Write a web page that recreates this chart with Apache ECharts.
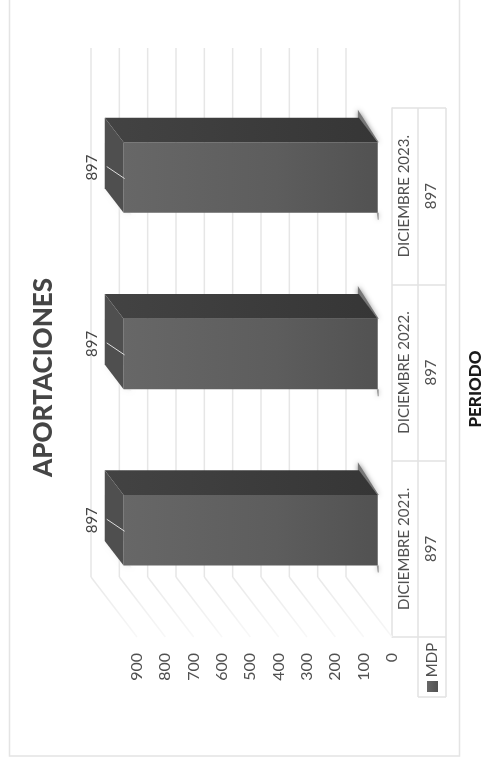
<!DOCTYPE html>
<html>
<head>
<meta charset="utf-8">
<style>html,body{margin:0;padding:0;background:#fff}#c{width:482px;height:760px}</style>
<script src="https://cdn.jsdelivr.net/npm/echarts@6/dist/echarts.min.js"></script>
</head>
<body>
<div id="c"></div>
<script>
const categories = ['DICIEMBRE 2021.', 'DICIEMBRE 2022.', 'DICIEMBRE 2023.'];
const mdpValues = [897, 897, 897];
const valueTicks = [0, 100, 200, 300, 400, 500, 600, 700, 800, 900];
const seriesName = 'MDP';
const chartTitle = 'APORTACIONES';
const axisTitle = 'PERIODO';

const FONT = 'Lato, "Open Sans", sans-serif';
const TXT = '#505050';
const DX = 46, DY = 60;           // floor depth of the 3D scene
const BAR_NEAR = 0.31, BAR_FAR = 0.72; // bar position within the depth
const BAR_W = 0.4;                // bar thickness as part of a band

const chart = echarts.init(document.getElementById('c'), null, {renderer: 'canvas'});

function line(x1, y1, x2, y2, style) {
  return {type: 'line', shape: {x1, y1, x2, y2}, style};
}
function poly(points, style) {
  return {type: 'polygon', shape: {points}, style};
}
function gradient(x2, y2, stops) {
  return new echarts.graphic.LinearGradient(0, 0, x2, y2, stops);
}

function renderWall(params, api) {
  const p = api.coord([api.value(0), 0]);
  const cs = params.coordSys;
  const top = cs.y - 62, bottom = cs.y + cs.height - DY, front = cs.y + cs.height;
  const x = p[0];
  return {type: 'group', silent: true, children: [
    line(x - DX, top + 2, x - DX, bottom, {stroke: '#e6e6e6', lineWidth: 1.5}),
    line(x - DX, bottom, x, front, {stroke: gradient(1, 1, [{offset: 0, color: '#e8e8e8'}, {offset: 1, color: '#f8f8f8'}]), lineWidth: 1.5})
  ]};
}

function renderBar(params, api) {
  const v = api.value(0);
  const base = api.coord([0, api.value(1)]);
  const end = api.coord([v, api.value(1)]);
  const band = api.size([0, 1])[1];
  const h = band * BAR_W;
  const fTop = base[1] - h / 2 - DY * BAR_NEAR, fBot = fTop + h;
  const bTop = base[1] - h / 2 - DY * BAR_FAR, bBot = bTop + h;
  const fL = end[0] - DX * BAR_NEAR, fR = base[0] - DX * BAR_NEAR;
  const bL = end[0] - DX * BAR_FAR, bR = base[0] - DX * BAR_FAR;
  const cy = (fTop + fBot) / 2;
  return {type: 'group', silent: true, children: [
    poly([[bR - 1, bTop - 8], [bR - 1, bTop], [fR, fTop], [fR + 1, fTop]], {fill: '#777777', shadowBlur: 5, shadowColor: '#777'}),
    poly([[fR - 1, fBot], [fR + 1, fBot], [fR + 1, fBot + 7], [fR, fBot + 7]], {fill: '#999999', shadowBlur: 4, shadowColor: '#aaa'}),
    poly([[bL, bBot], [fL, fBot], [fL + 8, fBot + 2], [bL + 6, bBot]], {fill: '#f2f2f2', shadowBlur: 4, shadowColor: '#eee'}),
    {type: 'rect', shape: {x: fL, y: fTop, width: fR - fL, height: h},
      style: {fill: gradient(1, 0, [{offset: 0, color: '#676767'}, {offset: 0.6, color: '#5d5d5d'}, {offset: 1, color: '#525252'}])}},
    poly([[bL, bTop], [bR, bTop], [fR, fTop], [fL, fTop]],
      {fill: gradient(1, 0, [{offset: 0, color: '#434343'}, {offset: 1, color: '#363636'}])}),
    poly([[bL, bTop], [fL, fTop], [fL, fBot], [bL, bBot]], {fill: '#4f4f4f'}),
    line(bL + 2, cy - 11, fL + 1, cy + 1, {stroke: '#dddddd', lineWidth: 1}),
    {type: 'text', x: fL - 31, y: cy - 10, rotation: Math.PI / 2, style: {
      text: String(v), fill: '#454545', font: '15px ' + FONT, align: 'center', verticalAlign: 'middle'}}
  ]};
}

const option = {
  animation: false,
  backgroundColor: '#ffffff',
  grid: {left: 137, width: 255, top: 108, height: 529, containLabel: false},
  xAxis: {
    type: 'value', inverse: true, min: 0, max: 900, interval: 100,
    axisLine: {show: false}, axisTick: {show: false}, splitLine: {show: false},
    axisLabel: {rotate: 90, margin: 16, color: TXT, fontFamily: FONT, fontSize: 16, verticalAlign: 'middle', align: 'right'}
  },
  yAxis: {
    type: 'category', position: 'right', data: categories,
    axisLine: {show: true, lineStyle: {color: '#e2e2e2', width: 1.5}},
    axisTick: {show: true, inside: false, length: 54, lineStyle: {color: '#e2e2e2', width: 1.5}},
    splitLine: {show: false},
    axisLabel: {
      rotate: 90, margin: 26, color: TXT, fontFamily: FONT, fontSize: 15, lineHeight: 27,
      align: 'center', verticalAlign: 'middle',
      formatter: (c, i) => c + '\n' + mdpValues[i]
    }
  },
  series: [
    {type: 'custom', name: 'walls', coordinateSystem: 'cartesian2d', clip: false, z: 1,
      renderItem: renderWall, data: valueTicks.map(t => [t, 0])},
    {type: 'custom', name: seriesName, coordinateSystem: 'cartesian2d', clip: false, z: 3,
      renderItem: renderBar, data: mdpValues.map((v, i) => [v, i])}
  ],
  graphic: [
    {type: 'rect', silent: true, shape: {x: 9.5, y: -10, width: 450, height: 766}, style: {fill: 'none', stroke: '#e4e4e4', lineWidth: 1.5}, z: 0},
    {type: 'line', silent: true, shape: {x1: 418, y1: 108, x2: 418, y2: 697}, style: {stroke: '#e2e2e2', lineWidth: 1.5}},
    {type: 'line', silent: true, shape: {x1: 446, y1: 108, x2: 446, y2: 697}, style: {stroke: '#e2e2e2', lineWidth: 1.5}},
    {type: 'line', silent: true, shape: {x1: 418, y1: 697, x2: 446, y2: 697}, style: {stroke: '#e2e2e2', lineWidth: 1.5}},
    {type: 'rect', silent: true, shape: {x: 427, y: 681, width: 11, height: 11},
      style: {fill: new echarts.graphic.LinearGradient(0, 0, 1, 0, [{offset: 0, color: '#676767'}, {offset: 1, color: '#525252'}])}},
    {type: 'text', silent: true, x: 432, y: 660, rotation: Math.PI / 2, style: {
      text: seriesName, fill: TXT, font: '15px ' + FONT, align: 'center', verticalAlign: 'middle'}},
    {type: 'text', silent: true, x: 44, y: 377.5, rotation: Math.PI / 2, style: {
      text: chartTitle, fill: '#454545', font: '900 26px ' + FONT, align: 'center', verticalAlign: 'middle'}},
    {type: 'text', silent: true, x: 476, y: 389, rotation: Math.PI / 2, style: {
      text: axisTitle, fill: '#1a1a1a', font: '900 17px ' + FONT, align: 'center', verticalAlign: 'middle'}}
  ]
};
chart.setOption(option);
</script>
</body>
</html>
